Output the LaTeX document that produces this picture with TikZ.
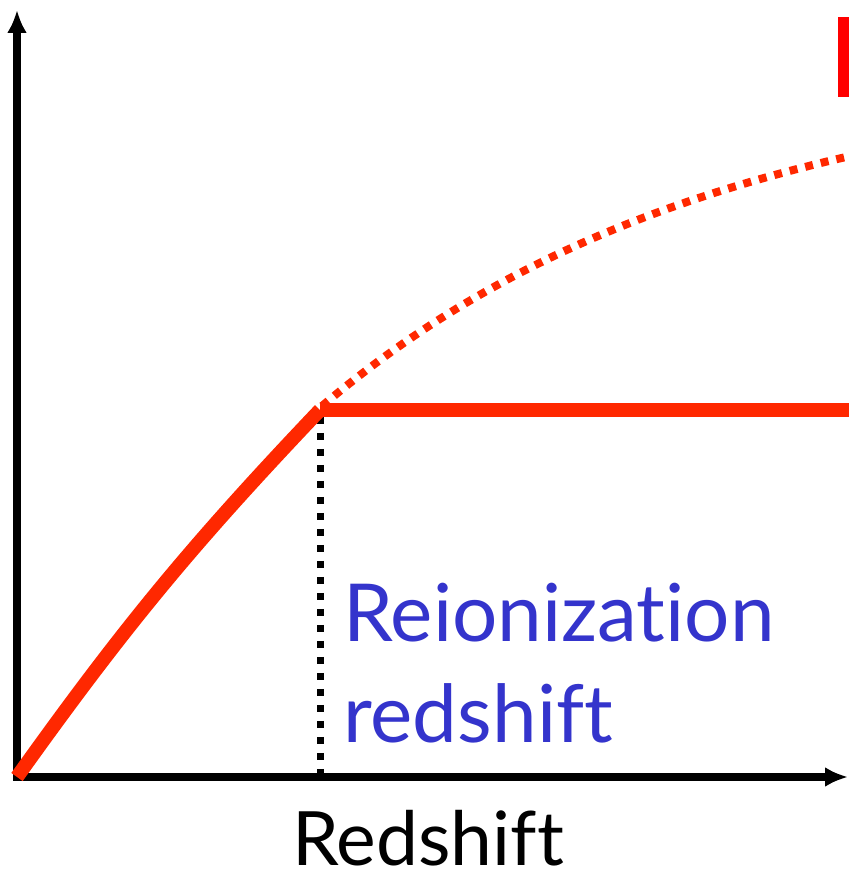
\documentclass[tikz,border=0pt]{standalone}
\usepackage{fontspec}
\setmainfont{Lato}[Ligatures=NoCommon]
\usetikzlibrary{arrows.meta}
\definecolor{curvared}{RGB}{255,40,0}
\definecolor{barred}{RGB}{255,0,0}
\definecolor{labelblue}{RGB}{52,52,204}
\begin{document}
\begin{tikzpicture}[x=1pt,y=1pt]
			\useasboundingbox (0,0) rectangle (849,873);
			\coordinate (o) at (17,96);
			\coordinate (k) at (320,463);
			\begin{scope}[line width=8pt,{Latex[length=23pt,width=20pt]}-{Latex[length=23pt,width=20pt]}]
			\draw (17,863) -- (o) -- (848,96);
			\end{scope}
			\node[anchor=base west,inner sep=0pt,font=\fontsize{75}{90}\selectfont] (xlab) at (292,8) {Redshift};

			% corrimiento de reionizacion
			\draw[line width=7pt,dash pattern=on 7pt off 9pt] (320,456) -- (320,98);
			\node[anchor=base west,align=left,inner sep=0pt,text=labelblue,
				font=\fontsize{80}{101}\selectfont] (zre) at (343,130) {Reionization\\redshift};

			% curvas
			\draw[line width=14pt,curvared] (o) to[bend left=4] (k);
			\draw[line width=14pt,curvared] (k) -- (849,463);
			\draw[line width=8pt,curvared,dash pattern=on 8pt off 8pt,variable=\x,domain=322:849,samples=60]
				plot ({\x},{467+341*(1-exp(-(\x-322)/400))});
			\fill[barred] (838,776) rectangle (849,856);
		    \end{tikzpicture}
\end{document}
